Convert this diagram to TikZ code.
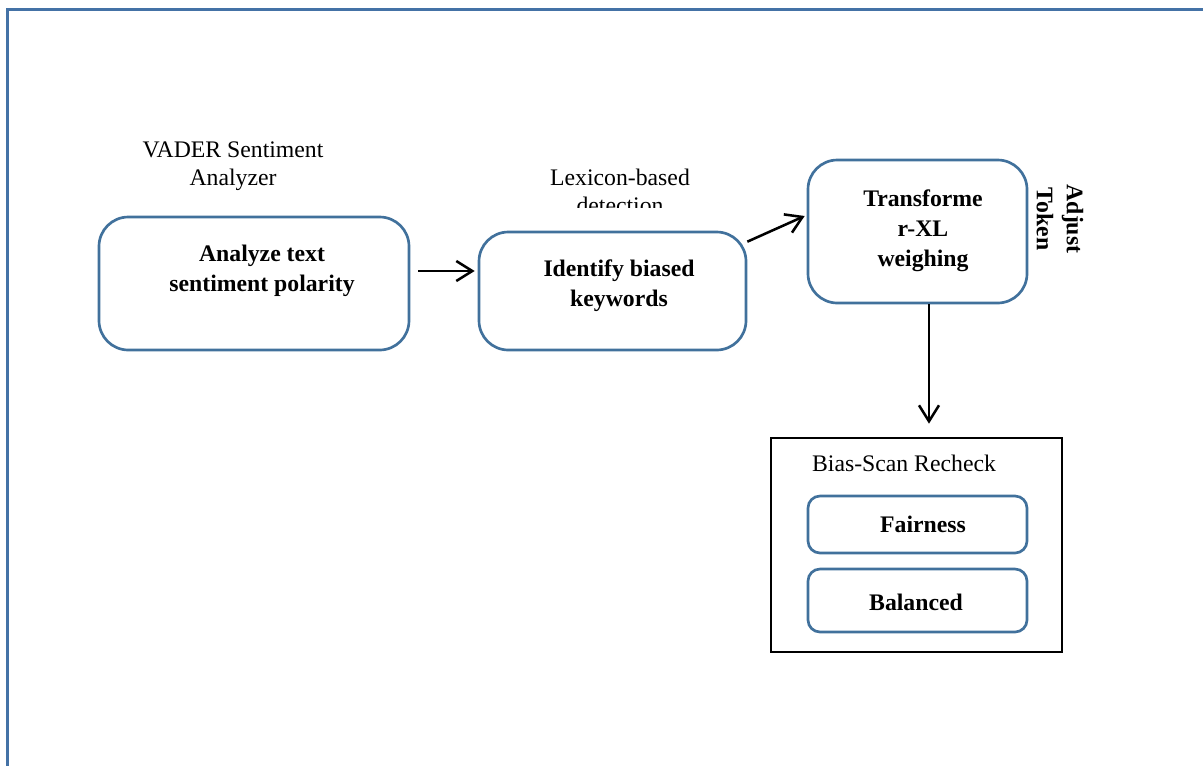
\documentclass[tikz,border=0pt]{standalone}
\usepackage{fontspec}
\setmainfont{Liberation Serif}
\usetikzlibrary{arrows.meta,calc}
\definecolor{boxblue}{RGB}{65,113,156}
\definecolor{frameblue}{RGB}{68,114,166}
\begin{document}
\begin{tikzpicture}[x=0.75pt,y=-0.75pt,
  txt/.style={font=\fontsize{17.8}{21}\selectfont, align=center, inner sep=0pt},
  btxt/.style={font=\fontsize{17.8}{22.5}\selectfont\bfseries, align=center, inner sep=0pt},
  rbox/.style={draw=boxblue, line width=2pt, rounded corners=22pt, inner sep=0pt},
  sbox/.style={draw=boxblue, line width=2pt, rounded corners=9pt, inner sep=0pt},
  cont/.style={draw=black, line width=2pt, inner sep=0pt},
  arr/.style={line width=1.9pt, -{Straight Barb[length=12pt,width=15pt,line width=1.9pt]}}
]
\useasboundingbox (0,0) rectangle (1203,765);
% outer frame
\draw[frameblue, line width=2.3pt] (7.5,800) -- (7.5,9.5) -- (1215,9.5);

% main boxes
\node[rbox, minimum width=232.5pt, minimum height=99.75pt] (b1) at (254,283.5) {};
\node[rbox, minimum width=200.25pt, minimum height=88.5pt] (b2) at (612.5,291) {};
\node[rbox, minimum width=164.25pt, minimum height=107.25pt] (b3) at (917.5,231.5) {};

% box texts
\node[btxt] (t1) at (262,271) {Analyze text\\sentiment polarity};
\node[btxt] (t2) at (619,286) {Identify biased\\keywords};
\node[btxt] (t3) at (923,231) {Transforme\\r-XL\\weighing};

% labels above boxes
\node[txt] (vader) at (233,166) {VADER Sentiment\\Analyzer};
\begin{scope}
  \clip (500,140) rectangle (750,207.5);
  \node[txt] (lex) at (620,191) {Lexicon-based\\detection};
\end{scope}
\node[btxt, rotate=-90] (adj) at (1060,219) {Adjust\\Token};

% container
\node[cont, minimum width=218.25pt, minimum height=160.5pt] (bias) at (916.5,545) {};
\node[txt] (biast) at (904,463) {Bias-Scan Recheck};
\node[sbox, minimum width=164.25pt, minimum height=42.75pt] (fair) at (917.5,524.5) {};
\node[btxt] (fairt) at (923,524) {Fairness};
\node[sbox, minimum width=164.25pt, minimum height=47.25pt] (bal) at (917.5,600.5) {};
\node[btxt] (balt) at (916,602) {Balanced};

% connectors
\coordinate (a1s) at ($(b1.east)+(8,-12.5)$);
\coordinate (a1e) at ($(b2.west)+(-3,-20)$);
\draw[arr] (a1s) -- (a1e);
\coordinate (a2s) at ($(b2.north east)+(0,11)$);
\coordinate (a2e) at ($(b3.west)+(-2,-15.5)$);
\draw[arr] (a2s) -- (a2e);
\coordinate (a3s) at ($(b3.south)+(11.5,0)$);
\coordinate (a3e) at ($(bias.north)+(12.5,-13)$);
\draw[arr] (a3s) -- (a3e);
\end{tikzpicture}
\end{document}
